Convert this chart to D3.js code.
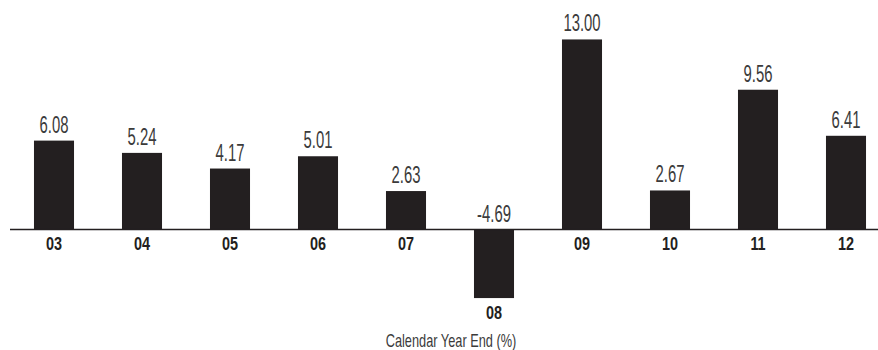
<!DOCTYPE html>
<html lang="en">
<head>
<meta charset="UTF-8">
<title>Calendar Year Returns</title>
<style>
    body { margin: 0; background: #fff; }
    svg text { font-family: "Liberation Sans", Arial, sans-serif; }
    .value { fill: #3b3b3b; font-size: 24px; }
    .cat { fill: #231f20; font-size: 19px; font-weight: bold; }
    .title { fill: #3b3b3b; font-size: 18px; }
</style>
</head>
<body>
<svg id="chart" width="878" height="350"></svg>
<script src="https://d3js.org/d3.v7.min.js"></script>
<script>
    // calendar-year returns
    const years = ["03", "04", "05", "06", "07", "08", "09", "10", "11", "12"];
    const returns = [6.08, 5.24, 4.17, 5.01, 2.63, -4.69, 13.00, 2.67, 9.56, 6.41];
    const axisTitle = "Calendar Year End (%)";

    const width = 878, height = 350;
    const svg = d3.select("#chart");

    // the original uses a condensed face; squeeze a normal one horizontally
    const squeeze = (tx, ty, sx) => `translate(${tx},${ty}) scale(${sx},1)`;

    const x = d3.scaleBand()
        .domain(years)
        .range([10, 890])
        .paddingInner(0.545)
        .paddingOuter(0.2725);

    const y = d3.scaleLinear()
        .domain([-5, 14])
        .range([229.5 + 5 * 14.62, 229.5 - 14 * 14.62]);

    const data = years.map((d, i) => ({ year: d, value: returns[i] }));
    const cx = d => x(d.year) + x.bandwidth() / 2;

    // bars
    svg.selectAll("rect.bar")
        .data(data)
        .join("rect")
        .attr("class", "bar")
        .attr("x", d => x(d.year))
        .attr("width", x.bandwidth())
        .attr("y", d => y(Math.max(0, d.value)))
        .attr("height", d => Math.abs(y(d.value) - y(0)))
        .attr("fill", "#231f20");

    // zero line
    svg.append("line")
        .attr("x1", 10).attr("x2", width)
        .attr("y1", y(0)).attr("y2", y(0))
        .attr("stroke", "#231f20")
        .attr("stroke-width", 1.5);

    // value labels, always above the zero line / bar top
    svg.selectAll("text.value")
        .data(data)
        .join("text")
        .attr("class", "value")
        .attr("text-anchor", "middle")
        .attr("transform", d => squeeze(cx(d), y(Math.max(0, d.value)) - 8, 0.62))
        .text(d => d.value.toFixed(2));

    // year labels, below the zero line or below a negative bar
    svg.selectAll("text.cat")
        .data(data)
        .join("text")
        .attr("class", "cat")
        .attr("text-anchor", "middle")
        .attr("transform", d => squeeze(cx(d), y(Math.min(0, d.value)) + 20.5, 0.76))
        .text(d => d.year);

    svg.append("text")
        .attr("class", "title")
        .attr("text-anchor", "middle")
        .attr("transform", squeeze((x.range()[0] + x.range()[1]) / 2 + 1, 346.5, 0.71))
        .text(axisTitle);
</script>
</body>
</html>
